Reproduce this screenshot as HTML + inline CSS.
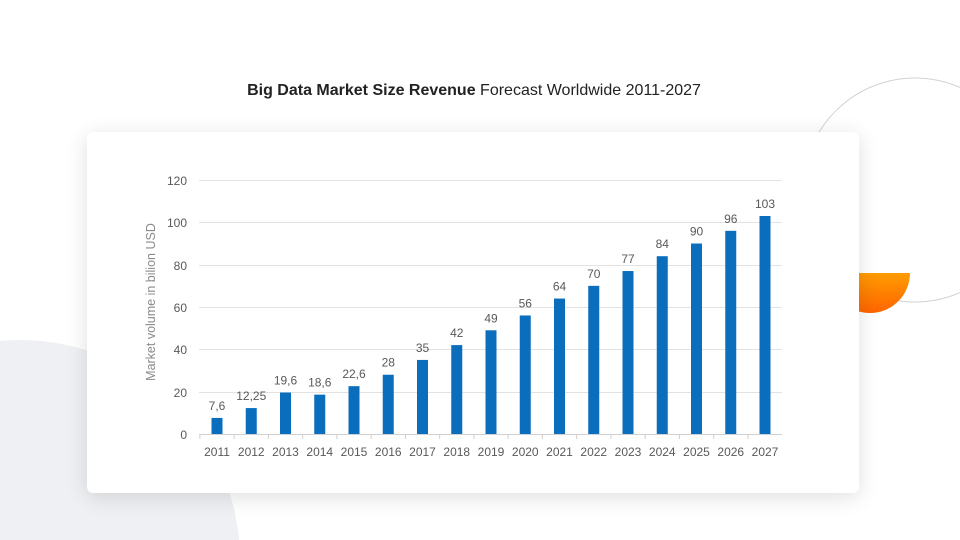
<!DOCTYPE html>
<html><head><meta charset="utf-8"><style>
html,body{margin:0;padding:0;width:960px;height:540px;overflow:hidden}
body{position:relative;background:#fff;font-family:"Liberation Sans",sans-serif}
.card{position:absolute;left:87px;top:132px;width:772px;height:361px;background:#fff;border-radius:6px;box-shadow:0 4px 22px rgba(0,0,0,0.13)}
.title{position:absolute;left:0;width:948px;top:82px;text-align:center;font-size:16px;color:#222}
svg{display:block}
</style></head><body>
<svg width="960" height="540" style="position:absolute;left:0;top:0">
<defs><linearGradient id="og" x1="0" y1="0" x2="0" y2="1"><stop offset="0" stop-color="#ff9c00"/><stop offset="1" stop-color="#ff6400"/></linearGradient></defs>
<circle cx="20" cy="560" r="220" fill="#eef0f3"/>
<circle cx="915" cy="190" r="112" fill="none" stroke="#d0d3d6" stroke-width="1"/>
<path d="M830 273 H910 A40 40 0 0 1 830 273 Z" fill="url(#og)"/>
</svg>
<div class="card"></div>
<div class="title"><b>Big Data Market Size Revenue</b> Forecast Worldwide 2011-2027</div>
<svg width="960" height="540" style="position:absolute;left:0;top:0" font-family="Liberation Sans, sans-serif">
<g stroke="#e2e2e2" stroke-width="1">
<line x1="199" x2="782" y1="180.5" y2="180.5"/><line x1="199" x2="782" y1="222.5" y2="222.5"/>
<line x1="199" x2="782" y1="265.5" y2="265.5"/><line x1="199" x2="782" y1="307.5" y2="307.5"/>
<line x1="199" x2="782" y1="349.5" y2="349.5"/><line x1="199" x2="782" y1="392.5" y2="392.5"/>
<line x1="199" x2="782" y1="434.5" y2="434.5" stroke="#d0d0d0"/>
</g>
<g font-size="12" fill="#595959" text-anchor="end">
<text x="187" y="185">120</text><text x="187" y="227">100</text><text x="187" y="270">80</text>
<text x="187" y="312">60</text><text x="187" y="354">40</text><text x="187" y="397">20</text><text x="187" y="439">0</text>
</g>
<text transform="translate(155,302) rotate(-90)" text-anchor="middle" font-size="12.5" fill="#8a8a8a">Market volume in bilion USD</text>
<g id="bars"></g>
</svg>
<script>
var v=[7.6,12.25,19.6,18.6,22.6,28,35,42,49,56,64,70,77,84,90,96,103];
var l=["7,6","12,25","19,6","18,6","22,6","28","35","42","49","56","64","70","77","84","90","96","103"];
var g=document.getElementById('bars'),s='';
for(var i=0;i<17;i++){var cx=217+i*34.25,h=v[i]*42.33/20,y=434-h;
s+='<rect x="'+(cx-5.5)+'" y="'+y+'" width="11" height="'+h+'" fill="#0a6ebd"/>';
s+='<text x="'+cx+'" y="'+(y-8)+'" text-anchor="middle" font-size="12" fill="#595959">'+l[i]+'</text>';
s+='<text x="'+cx+'" y="456" text-anchor="middle" font-size="12" fill="#595959">'+(2011+i)+'</text>';
s+='<line x1="'+(cx-17.1)+'" x2="'+(cx-17.1)+'" y1="434" y2="439" stroke="#d0d0d0"/>';}
g.innerHTML=s;
</script>
</body></html>
